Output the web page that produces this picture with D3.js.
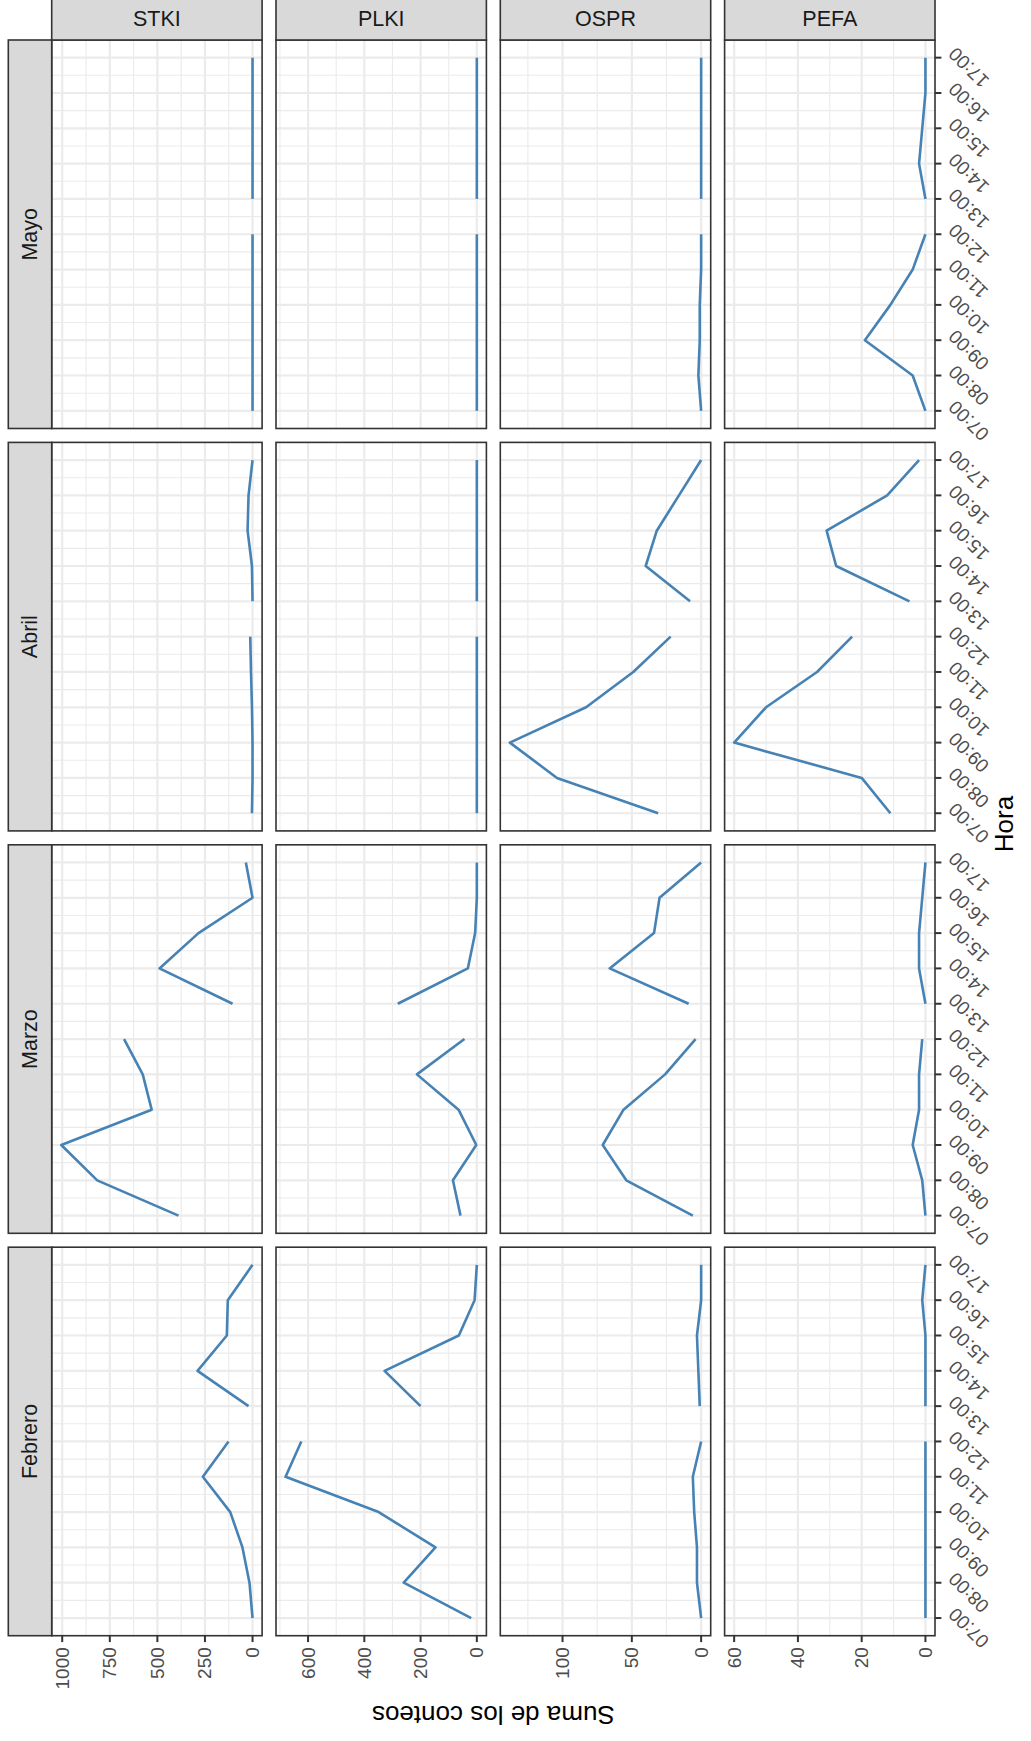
<!DOCTYPE html>
<html><head><meta charset="utf-8">
<script src="https://cdn.jsdelivr.net/npm/d3@7"></script>
<style>
body{margin:0;background:#fff}
svg{display:block}
text{font-family:"Liberation Sans", Arial, Helvetica, sans-serif}
</style>
</head><body><div id="chart"></div>
<script>
// ---------------- data ----------------
const months = ["Febrero", "Marzo", "Abril", "Mayo"];
const species = ["STKI", "PLKI", "OSPR", "PEFA"];
const hours = [7, 8, 9, 10, 11, 12, 13, 14, 15, 16, 17];
const hourLabels = ["07:00","08:00","09:00","10:00","11:00","12:00","13:00","14:00","15:00","16:00","17:00"];
// two sampling sessions (line broken between them)
const morning = [7, 8, 9, 10, 11, 12];
const afternoon = [13, 14, 15, 16, 17];

// values per month (Febrero, Marzo, Abril, Mayo), hours 07..17
const stki = [
  [0, 16, 53, 117, 261, 126, 21, 289, 135, 130, 0],
  [389, 816, 1005, 530, 577, 675, 105, 489, 284, 0, 35],
  [3, 0, 0, 3, 8, 12, 0, 3, 26, 21, 0],
  [0, 0, 0, 0, 0, 0, 0, 0, 0, 0, 0]
];
const plki = [
  [20, 260, 147, 349, 680, 624, 200, 328, 64, 8, 0],
  [58, 85, 2, 65, 213, 44, 281, 32, 6, 0, 0],
  [0, 0, 0, 0, 0, 0, 0, 0, 0, 0, 0],
  [0, 0, 0, 0, 0, 0, 0, 0, 0, 0, 0]
];
const ospr = [
  [0, 3, 3, 5, 6, 0, 1, 2, 3, 0, 0],
  [6, 54, 71, 56, 26, 4, 9, 66, 34, 30, 0],
  [31, 104, 138, 83, 49, 22, 8, 40, 32, 16, 0],
  [0, 2, 1, 1, 0, 0, 0, 0, 0, 0, 0]
];
const pefa = [
  [0, 0, 0, 0, 0, 0, 0, 0, 0, 1, 0],
  [0, 1, 4, 2, 2, 1, 0, 2, 2, 1, 0],
  [11, 20, 60, 50, 34, 23, 5, 28, 31, 12, 2],
  [0, 4, 19, 11, 4, 0, 0, 2, 1, 0, 0]
];
const seriesBySpecies = [stki, plki, ospr, pefa];

const ticksStki = [0, 250, 500, 750, 1000];
const ticksPlki = [0, 200, 400, 600];
const ticksOspr = [0, 50, 100];
const ticksPefa = [0, 20, 40, 60];
const ticksBySpecies = [ticksStki, ticksPlki, ticksOspr, ticksPefa];

const yTitle = "Suma de los conteos";
const xTitle = "Hora";

// ---------------- layout (drawn un-rotated, then turned 90° CCW) ----------------
const W = 1741, H = 1031;
const L = 105.3, R = 1701, T = 51.7, B = 935, gap = 13.9;
const pw = (R - L - 3 * gap) / 4;
const ph = (B - T - 3 * gap) / 4;
const stripTop = 8.3;
const stripW = 44;

const C = {
  grid: "#EBEBEB", border: "#333333", strip: "#D9D9D9",
  stripText: "#1A1A1A", tickText: "#4D4D4D", line: "#4682B4"
};

const svg = d3.select("#chart").append("svg")
  .attr("width", 1031).attr("height", 1741);
svg.append("rect").attr("width", 1031).attr("height", 1741).attr("fill", "#fff");
const g = svg.append("g").attr("transform", `translate(0,${W}) rotate(-90)`);

const x = d3.scaleLinear().domain([6.5, 17.5]).range([0, pw]);
const majorX = hours;
const minorX = d3.range(6.5, 17.6, 1);

function minorBreaks(t, dom) {
  const step = t[1] - t[0];
  const ext = [t[0] - step, ...t, t[t.length - 1] + step];
  const m = [];
  for (let i = 0; i < ext.length - 1; i++) m.push((ext[i] + ext[i + 1]) / 2);
  return m.filter(v => v >= dom[0] && v <= dom[1]);
}

species.forEach((sp, j) => {
  const data = seriesBySpecies[j];
  const mx = d3.max(data.flat());
  const dom = [-0.05 * mx, mx * 1.05];
  const y = d3.scaleLinear().domain(dom).range([ph, 0]);
  const ticks = ticksBySpecies[j];
  const minorY = minorBreaks(ticks, dom);
  const py = T + j * (ph + gap);

  months.forEach((mo, i) => {
    const px = L + i * (pw + gap);
    const p = g.append("g").attr("transform", `translate(${px},${py})`);
    p.append("rect").attr("width", pw).attr("height", ph).attr("fill", "#fff");
    // minor grid
    p.selectAll(".mnx").data(minorX).enter().append("line")
      .attr("x1", d => x(d)).attr("x2", d => x(d)).attr("y1", 0).attr("y2", ph)
      .attr("stroke", C.grid).attr("stroke-width", 1.1);
    p.selectAll(".mny").data(minorY).enter().append("line")
      .attr("x1", 0).attr("x2", pw).attr("y1", d => y(d)).attr("y2", d => y(d))
      .attr("stroke", C.grid).attr("stroke-width", 1.1);
    // major grid
    p.selectAll(".mjx").data(majorX).enter().append("line")
      .attr("x1", d => x(d)).attr("x2", d => x(d)).attr("y1", 0).attr("y2", ph)
      .attr("stroke", C.grid).attr("stroke-width", 2.2);
    p.selectAll(".mjy").data(ticks).enter().append("line")
      .attr("x1", 0).attr("x2", pw).attr("y1", d => y(d)).attr("y2", d => y(d))
      .attr("stroke", C.grid).attr("stroke-width", 2.2);
    // lines
    const vals = data[i];
    const line = d3.line().x(d => x(d)).y(d => y(vals[hours.indexOf(d)]));
    [morning, afternoon].forEach(seg => {
      p.append("path").attr("d", line(seg)).attr("fill", "none")
        .attr("stroke", C.line).attr("stroke-width", 2.6)
        .attr("stroke-linejoin", "round").attr("stroke-linecap", "butt");
    });
    p.append("rect").attr("width", pw).attr("height", ph).attr("fill", "none")
      .attr("stroke", C.border).attr("stroke-width", 1.6);

    // x axis (bottom row only)
    if (j === species.length - 1) {
      const ax = p.append("g").attr("transform", `translate(0,${ph})`);
      ax.selectAll("line").data(hours).enter().append("line")
        .attr("x1", d => x(d)).attr("x2", d => x(d)).attr("y1", 0).attr("y2", 6.4)
        .attr("stroke", C.border).attr("stroke-width", 2);
      ax.selectAll("text").data(hours).enter().append("text")
        .attr("transform", d => `translate(${x(d) + 2},12) rotate(-45)`)
        .attr("text-anchor", "end").attr("dominant-baseline", "hanging")
        .attr("font-size", 19).attr("fill", C.tickText)
        .text((d, k) => hourLabels[k]);
    }
    // y axis (left column only)
    if (i === 0) {
      const ay = p.append("g");
      ay.selectAll("line").data(ticks).enter().append("line")
        .attr("x1", -6.4).attr("x2", 0).attr("y1", d => y(d)).attr("y2", d => y(d))
        .attr("stroke", C.border).attr("stroke-width", 2);
      ay.selectAll("text").data(ticks).enter().append("text")
        .attr("x", -11.5).attr("y", d => y(d))
        .attr("text-anchor", "end").attr("dominant-baseline", "central")
        .attr("font-size", 19).attr("fill", C.tickText)
        .text(d => d);
    }
  });

  // species strip (right)
  const s = g.append("g").attr("transform", `translate(${R},${py})`);
  s.append("rect").attr("width", stripW).attr("height", ph)
    .attr("fill", C.strip).attr("stroke", C.border).attr("stroke-width", 1.6);
  s.append("text").attr("transform", `translate(${stripW / 2 - 0.5},${ph / 2}) rotate(90)`)
    .attr("text-anchor", "middle").attr("dominant-baseline", "central")
    .attr("font-size", 21.5).attr("fill", C.stripText).text(sp);
});

// month strips (top)
months.forEach((mo, i) => {
  const px = L + i * (pw + gap);
  const s = g.append("g").attr("transform", `translate(${px},${stripTop})`);
  s.append("rect").attr("width", pw).attr("height", T - stripTop)
    .attr("fill", C.strip).attr("stroke", C.border).attr("stroke-width", 1.6);
  s.append("text").attr("x", pw / 2).attr("y", (T - stripTop) / 2)
    .attr("text-anchor", "middle").attr("dominant-baseline", "central")
    .attr("font-size", 21.5).attr("fill", C.stripText).text(mo);
});

// axis titles
g.append("text").attr("transform", `translate(26,${(T + B) / 2}) rotate(-90)`)
  .attr("text-anchor", "middle").attr("dominant-baseline", "central")
  .attr("font-size", 26).attr("fill", "#000").text(yTitle);
g.append("text").attr("x", 917).attr("y", 1004)
  .attr("text-anchor", "middle").attr("dominant-baseline", "central")
  .attr("font-size", 26).attr("fill", "#000").text(xTitle);
</script>
</body></html>
